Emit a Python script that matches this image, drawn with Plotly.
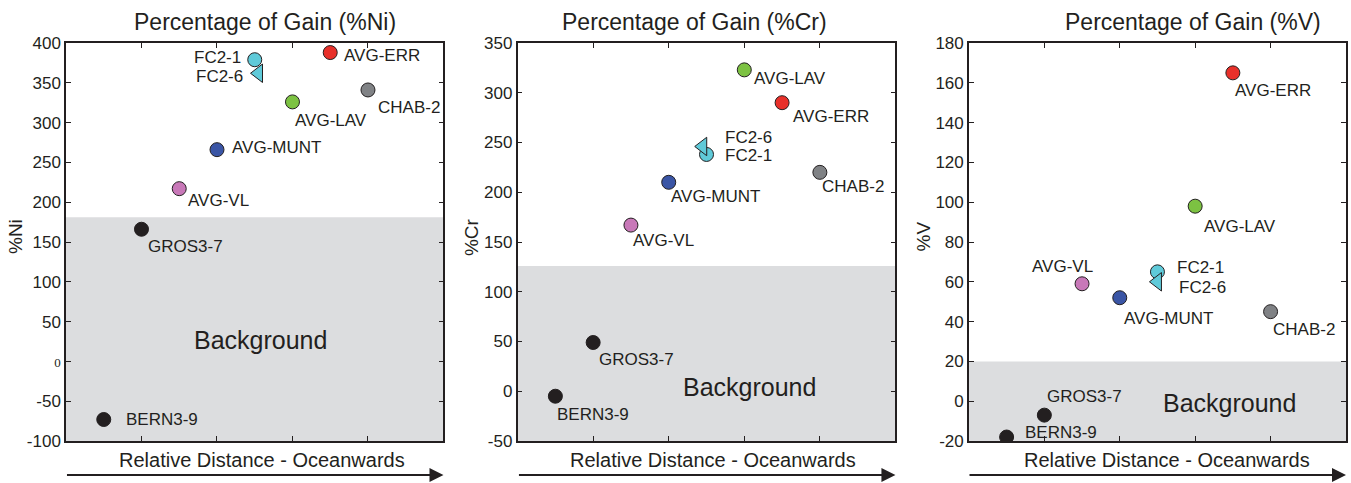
import plotly.graph_objects as go

# Samples ordered by relative distance oceanwards
samples = ["BERN3-9", "GROS3-7", "AVG-VL", "AVG-MUNT", "FC2-1", "FC2-6",
           "AVG-LAV", "AVG-ERR", "CHAB-2"]
distance = [0.5, 1.0, 1.5, 2.0, 2.5, 2.5, 3.0, 3.5, 4.0]
# FC2-6 sits just beside FC2-1 in each panel
fc26_distance = {"Ni": 2.55, "Cr": 2.45, "V": 2.5}

gain_ni = [-73, 166, 217, 266, 379, 362, 326, 388, 341]
gain_cr = [-5, 49, 167, 210, 238, 246, 323, 290, 220]
gain_v = [-18, -7, 59, 52, 65, 60, 98, 165, 45]

# upper limit of the background (unaltered) field
background_top = {"Ni": 181, "Cr": 126, "V": 20}
y_ranges = {"Ni": [-100, 400], "Cr": [-50, 350], "V": [-20, 180]}
y_dticks = {"Ni": 50, "Cr": 50, "V": 20}

colors = ["#231f20", "#231f20", "#c878b8", "#3a55a5", "#5fcad9", "#5fcad9",
          "#7cc242", "#e8302a", "#808285"]
symbols = ["circle"] * 5 + ["triangle-left"] + ["circle"] * 3
marker_sizes = [14] * 5 + [16] + [14] * 3

INK = "#231f20"
FONT = "Liberation Sans, Arial, sans-serif"

# label placement per panel: (anchor, xshift, yshift) in pixels
label_pos = {
    "Ni": {
        "BERN3-9": ("left", 20, 0), "GROS3-7": ("left", 5, -17),
        "AVG-VL": ("left", 7, -12), "AVG-MUNT": ("left", 13, 2),
        "FC2-1": ("right", -12, 2), "FC2-6": ("right", -14, -3),
        "AVG-LAV": ("left", 1, -19), "AVG-ERR": ("left", 12, -3),
        "CHAB-2": ("left", 8, -18),
    },
    "Cr": {
        "BERN3-9": ("left", 0, -18), "GROS3-7": ("left", 4, -17),
        "AVG-VL": ("left", 0, -15), "AVG-MUNT": ("left", 0, -14),
        "FC2-1": ("left", 16, -1), "FC2-6": ("left", 20, 9),
        "AVG-LAV": ("left", 8, -9), "AVG-ERR": ("left", 9, -14),
        "CHAB-2": ("left", 0, -14),
    },
    "V": {
        "BERN3-9": ("left", 16, 5), "GROS3-7": ("left", 1, 19),
        "AVG-VL": ("right", 13, 17), "AVG-MUNT": ("left", 2, -21),
        "FC2-1": ("left", 18, 4), "FC2-6": ("left", 20, -6),
        "AVG-LAV": ("left", 7, -20), "AVG-ERR": ("left", 0, -18),
        "CHAB-2": ("left", 0, -18),
    },
}

panels = [
    ("Ni", gain_ni, "Percentage of Gain (%Ni)", "%Ni", [0.0, 0.2949],
     0.526, 0.520, -0.132, (2.58, 27)),
    ("Cr", gain_cr, "Percentage of Gain (%Cr)", "%Cr", [0.3528, 0.6480],
     0.468, 0.518, -0.120, (3.07, 4)),
    ("V", gain_v, "Percentage of Gain (%V)", "%V", [0.7054, 1.0],
     0.594, 0.524, -0.120, (3.46, -1)),
]

fig = go.Figure()
shapes = []
annotations = []

for i, (key, values, title, ytitle, domain, tx, xtx, ytx, bg_pos) in enumerate(panels, start=1):
    sfx = "" if i == 1 else str(i)
    xref, yref = "x" + sfx, "y" + sfx
    xs = [fc26_distance[key] if s == "FC2-6" else d for s, d in zip(samples, distance)]

    fig.add_trace(go.Scatter(
        x=xs, y=values, mode="markers", xaxis=xref, yaxis=yref,
        marker=dict(color=colors, symbol=symbols, size=marker_sizes, opacity=1,
                    line=dict(color=INK, width=1)),
        text=samples, hoverinfo="text", showlegend=False,
    ))

    # shaded background field
    shapes.append(dict(type="rect", xref=xref + " domain", yref=yref,
                       x0=0, x1=1, y0=y_ranges[key][0], y1=background_top[key],
                       fillcolor="#dcdddf", line=dict(width=0), layer="below"))

    # sample labels
    for s, xv, yv in zip(samples, xs, values):
        anchor, dx, dy = label_pos[key][s]
        annotations.append(dict(x=xv, y=yv, xref=xref, yref=yref, text=s,
                                showarrow=False, xanchor=anchor, yanchor="middle",
                                xshift=dx, yshift=dy,
                                font=dict(family=FONT, size=17, color=INK)))

    annotations.append(dict(x=bg_pos[0], y=bg_pos[1], xref=xref, yref=yref,
                            text="Background", showarrow=False,
                            font=dict(family=FONT, size=25, color=INK)))
    annotations.append(dict(x=tx, y=1.053, xref=xref + " domain", yref=yref + " domain",
                            text=title, showarrow=False, xanchor="center", yanchor="middle",
                            font=dict(family=FONT, size=23, color=INK)))
    annotations.append(dict(x=xtx, y=-0.048, xref=xref + " domain", yref=yref + " domain",
                            text="Relative Distance - Oceanwards", showarrow=False,
                            xanchor="center", yanchor="middle",
                            font=dict(family=FONT, size=20, color=INK)))
    annotations.append(dict(x=ytx, y=0.513, xref=xref + " domain", yref=yref + " domain",
                            text=ytitle, showarrow=False, textangle=-90,
                            xanchor="center", yanchor="middle",
                            font=dict(family=FONT, size=19, color=INK)))
    # oceanwards arrow
    annotations.append(dict(x=1.0, y=-0.0854, xref=xref + " domain", yref=yref + " domain",
                            ax=-378, ay=0, axref="pixel", ayref="pixel", text="",
                            showarrow=True, arrowhead=2, arrowsize=1.4, arrowwidth=2,
                            arrowcolor=INK, standoff=0))

    lo, hi = y_ranges[key]
    tickvals = list(range(lo, hi + 1, y_dticks[key]))
    ticktext = [str(v) for v in tickvals]
    if key == "Ni":
        ticktext = ['<span style="font-family:Liberation Serif;font-size:13px">0</span>'
                    if v == 0 else str(v) for v in tickvals]

    axis_common = dict(showline=True, linecolor=INK, linewidth=1.5, mirror="ticks",
                       ticks="inside", ticklen=5, tickcolor=INK, tickwidth=1.2,
                       showgrid=False, zeroline=False)
    fig.update_layout(**{
        "xaxis" + sfx: dict(domain=domain, range=[0, 5], tickvals=[1, 2, 3, 4],
                            showticklabels=False, anchor=yref, **axis_common),
        "yaxis" + sfx: dict(range=[lo, hi], tickvals=tickvals, ticktext=ticktext,
                            anchor=xref, tickfont=dict(family=FONT, size=17, color=INK),
                            **axis_common),
    })

fig.update_layout(
    width=1351, height=483,
    margin=dict(l=66, r=3, t=43, b=42),
    paper_bgcolor="white", plot_bgcolor="white",
    shapes=shapes, annotations=annotations,
)

fig.write_html("out.html")
